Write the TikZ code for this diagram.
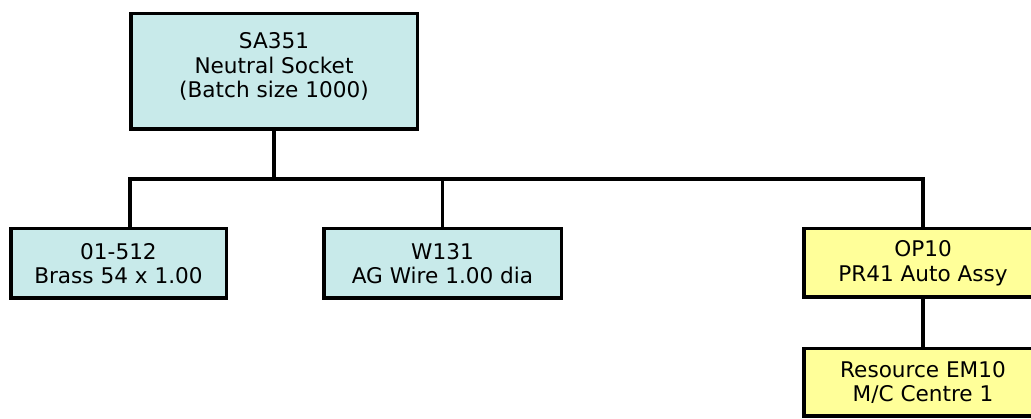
\documentclass[tikz,border=0pt]{standalone}
\usepackage{fontspec}
\setmainfont{DejaVu Sans}
\definecolor{partfill}{RGB}{200,234,234}
\definecolor{opfill}{RGB}{255,255,153}
\begin{document}
\begin{tikzpicture}[x=1pt,y=-1pt,
  txt/.style={align=center, font=\fontsize{21.6}{24.5}\selectfont, inner sep=0pt, text=black},
  box/.style={txt, draw=black, line width=3.5pt, rectangle},
  part/.style={box, fill=partfill},
  op/.style={box, fill=opfill},
  link/.style={line width=3.5pt, line join=miter}]
\useasboundingbox (0,0) rectangle (1031,419);
\clip (0,0) rectangle (1031,419);
\node[part, minimum width=286.5pt, minimum height=115.5pt] (sa) at (274,71.5) {};
\node[txt] (satext) at (274,66.5) {SA351\\Neutral Socket\\(Batch size 1000)};
\node[part, minimum width=215.5pt, minimum height=69.5pt] (brass) at (118.5,263.5)
  {01-512\\Brass 54 x 1.00};
\node[part, minimum width=237.5pt, minimum height=69.5pt] (wire) at (442.5,263.5)
  {W131\\AG Wire 1.00 dia};
\node[op, minimum width=238.5pt, minimum height=68.5pt] (op10) at (923,263)
  {OP10\\PR41 Auto Assy};
\node[op, minimum width=238.5pt, minimum height=67.5pt] (res) at (923,382.5)
  {Resource EM10\\M/C Centre 1};
\coordinate (bus) at (274,179);
\draw[link] (sa.south) -- (bus);
\draw[link] ([xshift=11.5pt]brass.north) |- (bus);
\draw[link] (wire.north) |- (bus);
\draw[link] (op10.north) |- (bus);
\draw[link] (op10.south) -- (res.north);
\end{tikzpicture}
\end{document}
